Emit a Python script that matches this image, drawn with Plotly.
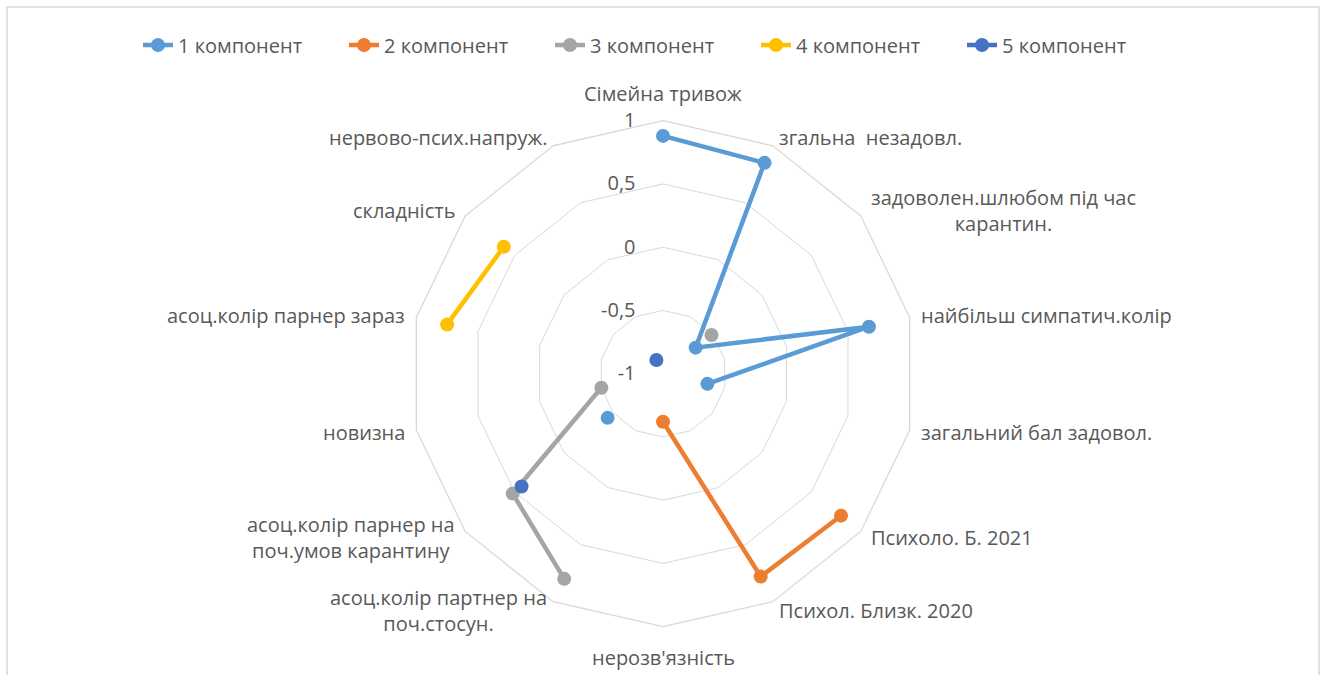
import math
import plotly.graph_objects as go

categories = [
    "Сімейна тривож",
    "згальна  незадовл.",
    "задоволен.шлюбом під час<br>карантин.",
    "найбільш симпатич.колір",
    "загальний бал задовол.",
    "Психоло. Б. 2021",
    "Психол. Близк. 2020",
    "нерозв'язність",
    "асоц.колір партнер на<br>поч.стосун.",
    "асоц.колір парнер на<br>поч.умов карантину",
    "новизна",
    "асоц.колір парнер зараз",
    "складність",
    "нервово-псих.напруж.",
]

series_names = ["1 компонент", "2 компонент", "3 компонент", "4 компонент", "5 компонент"]

comp1 = [0.88, 0.85, -0.67, 0.67, -0.64, None, None, None, None, -0.44, None, None, None, None]
comp2 = [None, None, None, None, None, 0.80, 0.78, -0.62, None, None, None, None, None, None]
comp3 = [None, None, -0.51, None, None, None, None, None, 0.80, 0.52, -0.50, None, None, None]
comp4 = [None, None, None, None, None, None, None, None, None, None, None, 0.75, 0.61, None]
comp5 = [None, None, None, None, None, None, None, None, None, 0.43, None, None, None, -0.88]

tick_vals = [-1, -0.5, 0, 0.5, 1]
tick_text = ["-1", "-0,5", "0", "0,5", "1"]

colors = ["#5B9BD5", "#ED7D31", "#A5A5A5", "#FFC000", "#4472C4"]
all_series = [comp1, comp2, comp3, comp4, comp5]

# radial axis is offset so its minimum (-1) sits at the centre
r_min, r_max = tick_vals[0], tick_vals[-1]


def to_axis(v):
    return None if v is None else v - r_min


W, H = 1323, 675
cx, cy, R = 663, 373.7, 253

fig = go.Figure()
for name, vals, col in zip(series_names, all_series, colors):
    fig.add_trace(go.Scatterpolar(
        r=[to_axis(v) for v in vals], theta=categories, name=name, mode="lines+markers",
        line=dict(color=col, width=4.5),
        marker=dict(color=col, size=14),
        connectgaps=False,
    ))

font_family = "Open Sans, Noto Sans, DejaVu Sans, sans-serif"
txt = "#595959"
grid = "#D9D9D9"

# category labels placed just outside the outer polygon, Excel-style
annotations = []
n = len(categories)
for i, lab in enumerate(categories):
    th = 2 * math.pi * i / n
    s, c = math.sin(th), math.cos(th)
    vx = cx + R * s
    vy = cy - R * c
    if abs(s) < 1e-6:
        px = vx
        if c > 0:
            py, ya = vy - 12, "bottom"
        else:
            py, ya = vy + 15, "top"
        xa = "center"
    else:
        px = vx + 10 * s
        py = vy - 9.5 * c
        xa = "left" if s > 0 else "right"
        ya = "middle"
    annotations.append(dict(
        text=lab, x=px / W, y=1 - py / H, xref="paper", yref="paper",
        xanchor=xa, yanchor=ya, align="center", showarrow=False,
        font=dict(size=20, color=txt, family=font_family),
    ))

fig.update_layout(
    width=W, height=H,
    margin=dict(l=0, r=0, t=0, b=0),
    paper_bgcolor="white",
    font=dict(family=font_family, size=20, color=txt),
    polar=dict(
        domain=dict(x=[(cx - R) / W, (cx + R) / W], y=[(H - cy - R) / H, (H - cy + R) / H]),
        bgcolor="white",
        gridshape="linear",
        radialaxis=dict(
            range=[0, r_max - r_min], tickvals=[to_axis(v) for v in tick_vals], ticktext=tick_text,
            angle=90, side="counterclockwise", showline=False, tickangle=90,
            gridcolor=grid, gridwidth=1.3, ticks="outside", ticklen=20,
            tickcolor="rgba(0,0,0,0)", tickfont=dict(size=20, color=txt),
        ),
        angularaxis=dict(
            direction="clockwise", rotation=90, showgrid=False,
            showline=True, linecolor=grid, linewidth=1.3,
            ticks="", showticklabels=False,
        ),
    ),
    legend=dict(
        orientation="h", x=138 / W, xanchor="left", y=1 - 45 / H, yanchor="middle",
        font=dict(size=20, color=txt), entrywidth=161, entrywidthmode="pixels",
        bgcolor="rgba(0,0,0,0)",
    ),
    annotations=annotations,
    shapes=[dict(type="rect", xref="paper", yref="paper",
                 x0=7 / W, x1=1319 / W, y0=-0.02, y1=1 - 7 / H,
                 line=dict(color="#D9D9D9", width=1.5), fillcolor="rgba(0,0,0,0)", layer="below")],
)

fig.write_html("out.html", config={"displayModeBar": False},
               post_script="document.body.style.margin='0';")
